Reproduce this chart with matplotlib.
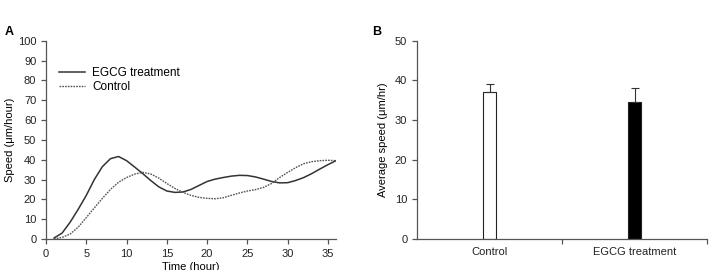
import matplotlib.pyplot as plt
import numpy as np

# panel A: speed over time (hourly)
hours = np.arange(1, 37)
egcg = [0.5, 3, 8.5, 15, 22, 30, 36.5, 40.5, 41.6, 39.5, 36.3, 33, 29.5, 26.3, 24.2,
        23.5, 23.7, 25, 27, 29, 30.2, 31, 31.7, 32.1, 32, 31.3, 30.2, 29, 28.3, 28.4,
        29.5, 31, 33, 35.3, 37.5, 39.5]
control = [0, 0.8, 2.5, 6, 10.8, 15.7, 20.5, 25, 28.6, 31, 32.7, 33.6, 32.8, 30.7, 28,
           25.5, 23.5, 22, 21, 20.5, 20.3, 20.8, 22, 23.2, 24.2, 24.9, 26, 28, 31, 33.6,
           36, 38, 39, 39.5, 39.7, 39.5]

# panel B: average speed
groups = ["Control", "EGCG treatment"]
avg_speed = [37.0, 34.6]
err_up = [2.0, 3.4]
bar_colors = ["white", "black"]

plt.rcParams["font.family"] = "Liberation Sans"
plt.rcParams["font.size"] = 8
axcol = "#555555"

fig = plt.figure(figsize=(7.11, 2.7), dpi=100)
axA = fig.add_axes([0.0647, 0.1148, 0.4079, 0.7345])
axB = fig.add_axes([0.5865, 0.1148, 0.4079, 0.7345])

for ax in (axA, axB):
    ax.spines["top"].set_visible(False)
    ax.spines["right"].set_visible(False)
    for s in ("left", "bottom"):
        ax.spines[s].set_color(axcol)
        ax.spines[s].set_linewidth(0.9)
    ax.tick_params(direction="out", length=3.5, width=0.9, color=axcol,
                   labelcolor="#222222", labelsize=8, pad=3.5)

axA.plot(hours, egcg, color="#333333", lw=1.1, label="EGCG treatment")
axA.plot(hours, control, color="#555555", lw=1.0, ls=(0, (1.2, 0.8)), label="Control")
axA.set_xlim(0, 36)
axA.set_ylim(0, 100)
axA.set_xticks(np.arange(0, 36, 5))
axA.set_yticks(np.arange(0, 101, 10))
axA.set_xlabel("Time (hour)", labelpad=2)
axA.set_ylabel("Speed (\u03bcm/hour)", labelpad=2)
axA.legend(loc="upper left", bbox_to_anchor=(0.03, 0.89), frameon=False, fontsize=8.5,
           handlelength=2.2, handletextpad=0.6, labelspacing=0.15, borderaxespad=0)

xpos = [0.5, 1.5]
axB.bar(xpos, avg_speed, width=0.09, color=bar_colors, edgecolor="#222222", linewidth=0.8)
axB.errorbar(xpos, avg_speed, yerr=[[0, 0], err_up], fmt="none", ecolor="#333333",
             elinewidth=0.8, capsize=3, capthick=0.8)
axB.set_xlim(0, 2)
axB.set_ylim(0, 50)
axB.set_yticks(np.arange(0, 51, 10))
axB.set_xticks(xpos)
axB.set_xticklabels(groups)
axB.tick_params(axis="x", which="major", length=0, pad=6)
axB.set_xticks([1, 2], minor=True)
axB.tick_params(axis="x", which="minor", length=3.5, width=0.9, color=axcol, direction="out")
axB.set_ylabel("Average speed (\u03bcm/hr)", labelpad=5)

fig.text(0.007, 0.87, "A", fontsize=9, fontweight="bold")
fig.text(0.523, 0.87, "B", fontsize=9, fontweight="bold")

fig.savefig("out.png", dpi=100)
